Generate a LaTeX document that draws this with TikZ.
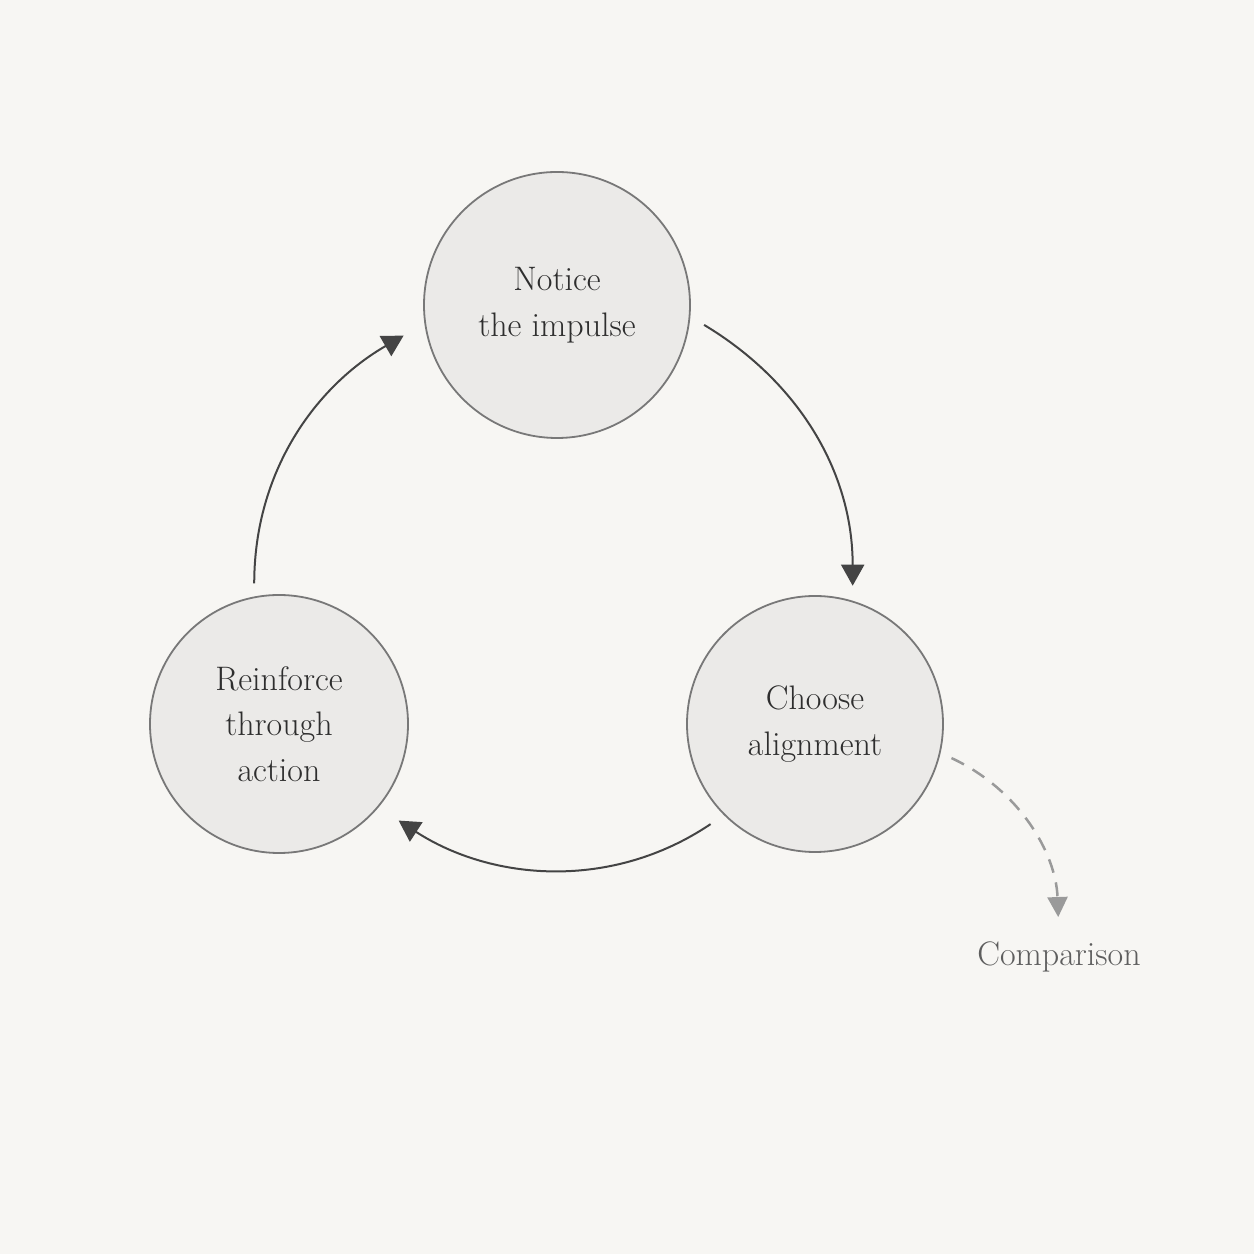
\documentclass[tikz,border=0pt]{standalone}
\usetikzlibrary{arrows.meta}
\definecolor{bg}{HTML}{F7F6F3}
\definecolor{cfill}{HTML}{EBEAE8}
\definecolor{circ}{HTML}{787878}
\definecolor{arr}{HTML}{444444}
\definecolor{dashc}{HTML}{9A9A9A}
\definecolor{txt}{HTML}{2E2E2E}
\definecolor{txtlight}{HTML}{5E5E5E}
\begin{document}
\begin{tikzpicture}[x=1pt,y=1pt,
  stage/.style={circle, draw=circ, line width=1.8pt, fill=cfill, minimum size=#1, inner sep=0pt, align=center, text=txt, font=\fontsize{34}{45.5}\selectfont},
  flow/.style={draw=arr, line width=2pt, -{Triangle[length=21pt,width=23pt]}},
  side/.style={draw=dashc, line width=2.5pt, dash pattern=on 14pt off 10pt, -{Triangle[length=20pt,width=20pt]}},
  lbl/.style={text=txtlight, font=\fontsize{34}{40}\selectfont, inner sep=3pt}]
\fill[bg] (0,0) rectangle (1254,1254);
\useasboundingbox (0,0) rectangle (1254,1254);
\node[stage=266pt] (top) at (557,949) {Notice\\the impulse};
\node[stage=256pt] (right) at (815,530) {Choose\\alignment};
\node[stage=258pt] (left) at (279,530) {Reinforce\\through\\action};
\node[lbl, anchor=base] (cmp) at (1059,288) {Comparison};
\draw[flow, shorten <=16pt, shorten >=15pt] (top.-5) to[out=-31, in=90] (right.73);
\draw[flow, shorten <=16pt, shorten >=24pt] (right.225) to[out=214, in=-33] (left.-40);
\draw[flow, shorten <=13pt, shorten >=24pt] (left.101) to[out=90, in=210] (top.188);
\draw[side, shorten <=12pt, shorten >=22pt] (right.-13) to[out=-25, in=92] (cmp.north);
\end{tikzpicture}
\end{document}
